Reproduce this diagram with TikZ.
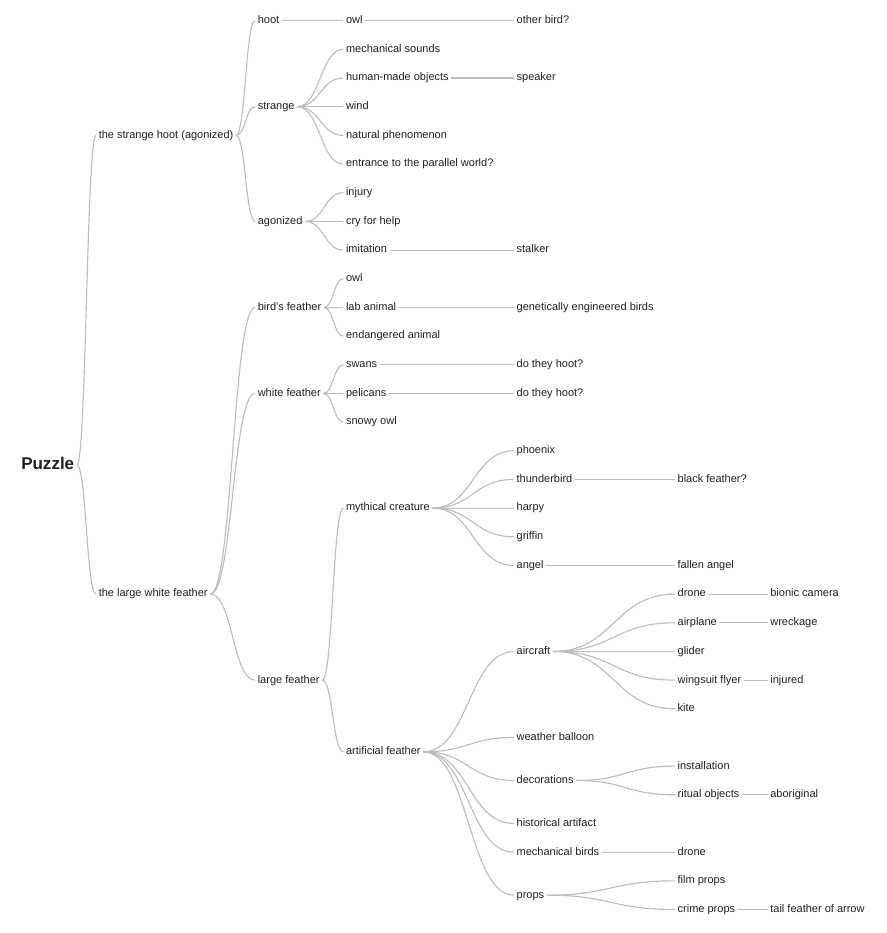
\documentclass[tikz,border=0pt]{standalone}
\usepackage{fontspec}
\setmainfont{Liberation Sans}
\usetikzlibrary{calc}
\definecolor{inkc}{HTML}{1F1F1F}
\definecolor{linkc}{HTML}{BDBDBD}
\tikzset{
  topic/.style={anchor=west, inner xsep=0pt, inner ysep=1pt, text height=4.3pt, text depth=0pt,
    font=\fontsize{8.25}{10}\selectfont, text=inkc},
  rootc/.style={topic, text height=6.6pt, font=\fontsize{12.75}{15}\selectfont\bfseries},
  link/.style={draw=linkc, line width=0.85pt, shorten <=1.8pt, shorten >=1.8pt},
}
\begin{document}
\begin{tikzpicture}[x=0.75pt, y=-21.5pt]
    \useasboundingbox (0,-0.722) rectangle (886,31.82);
    % root
    \node[rootc] (root) at (21,15.5) {Puzzle};
    % first level
    \node[topic] (shoot) at (98.5,4) {the strange hoot (agonized)};
    \node[topic] (feather) at (98.5,20) {the large white feather};
    % second level
    \node[topic] (hoot) at (257.5,0) {hoot};
    \node[topic] (strange) at (257.5,3) {strange};
    \node[topic] (agonized) at (257.5,7) {agonized};
    \node[topic] (birds) at (257.5,10) {bird's feather};
    \node[topic] (white) at (257.5,13) {white feather};
    \node[topic] (large) at (257.5,23) {large feather};
    % third level
    \node[topic] (owl) at (345.7,0) {owl};
    \node[topic] (mech) at (345.7,1) {mechanical sounds};
    \node[topic] (human) at (345.7,2) {human-made objects};
    \node[topic] (wind) at (345.7,3) {wind};
    \node[topic] (natural) at (345.7,4) {natural phenomenon};
    \node[topic] (entrance) at (345.7,5) {entrance to the parallel world?};
    \node[topic] (injury) at (345.7,6) {injury};
    \node[topic] (cry) at (345.7,7) {cry for help};
    \node[topic] (imitation) at (345.7,8) {imitation};
    \node[topic] (owlb) at (345.7,9) {owl};
    \node[topic] (lab) at (345.7,10) {lab animal};
    \node[topic] (endangered) at (345.7,11) {endangered animal};
    \node[topic] (swans) at (345.7,12) {swans};
    \node[topic] (pelicans) at (345.7,13) {pelicans};
    \node[topic] (snowy) at (345.7,14) {snowy owl};
    \node[topic] (mythical) at (345.7,17) {mythical creature};
    \node[topic] (artificial) at (345.7,25.5) {artificial feather};
    % fourth level
    \node[topic] (other) at (516.3,0) {other bird?};
    \node[topic] (speaker) at (516.3,2) {speaker};
    \node[topic] (stalker) at (516.3,8) {stalker};
    \node[topic] (genetic) at (516.3,10) {genetically engineered birds};
    \node[topic] (hoota) at (516.3,12) {do they hoot?};
    \node[topic] (hootb) at (516.3,13) {do they hoot?};
    \node[topic] (phoenix) at (516.3,15) {phoenix};
    \node[topic] (thunder) at (516.3,16) {thunderbird};
    \node[topic] (harpy) at (516.3,17) {harpy};
    \node[topic] (griffin) at (516.3,18) {griffin};
    \node[topic] (angel) at (516.3,19) {angel};
    \node[topic] (aircraft) at (516.3,22) {aircraft};
    \node[topic] (balloon) at (516.3,25) {weather balloon};
    \node[topic] (decor) at (516.3,26.5) {decorations};
    \node[topic] (historic) at (516.3,28) {historical artifact};
    \node[topic] (mbirds) at (516.3,29) {mechanical birds};
    \node[topic] (props) at (516.3,30.5) {props};
    % fifth level
    \node[topic] (blackf) at (677.3,16) {black feather?};
    \node[topic] (fallen) at (677.3,19) {fallen angel};
    \node[topic] (drone) at (677.3,20) {drone};
    \node[topic] (airplane) at (677.3,21) {airplane};
    \node[topic] (glider) at (677.3,22) {glider};
    \node[topic] (wingsuit) at (677.3,23) {wingsuit flyer};
    \node[topic] (kite) at (677.3,24) {kite};
    \node[topic] (install) at (677.3,26) {installation};
    \node[topic] (ritual) at (677.3,27) {ritual objects};
    \node[topic] (droneb) at (677.3,29) {drone};
    \node[topic] (film) at (677.3,30) {film props};
    \node[topic] (crime) at (677.3,31) {crime props};
    % sixth level
    \node[topic] (bionic) at (770,20) {bionic camera};
    \node[topic] (wreck) at (770,21) {wreckage};
    \node[topic] (injured) at (770,23) {injured};
    \node[topic] (aborig) at (770,27) {aboriginal};
    \node[topic] (tail) at (770,31) {tail feather of arrow};

    \foreach \a/\b in {root/shoot, root/feather,
        shoot/hoot, shoot/strange, shoot/agonized,
        feather/birds, feather/white, feather/large,
        hoot/owl, owl/other,
        strange/mech, strange/human, strange/wind, strange/natural, strange/entrance, human/speaker,
        agonized/injury, agonized/cry, agonized/imitation, imitation/stalker,
        birds/owlb, birds/lab, birds/endangered, lab/genetic,
        white/swans, white/pelicans, white/snowy, swans/hoota, pelicans/hootb,
        large/mythical, large/artificial,
        mythical/phoenix, mythical/thunder, mythical/harpy, mythical/griffin, mythical/angel,
        thunder/blackf, angel/fallen,
        artificial/aircraft, artificial/balloon, artificial/decor, artificial/historic,
        artificial/mbirds, artificial/props,
        aircraft/drone, aircraft/airplane, aircraft/glider, aircraft/wingsuit, aircraft/kite,
        drone/bionic, airplane/wreck, wingsuit/injured,
        decor/install, decor/ritual, ritual/aborig, mbirds/droneb,
        props/film, props/crime, crime/tail}
      \draw[link] let \p1=(\a.east), \p2=(\b.west) in
        (\p1) .. controls ({(\x1+\x2)/2},\y1) and ({(\x1+\x2)/2},\y2) .. (\p2);
\end{tikzpicture}
\end{document}
